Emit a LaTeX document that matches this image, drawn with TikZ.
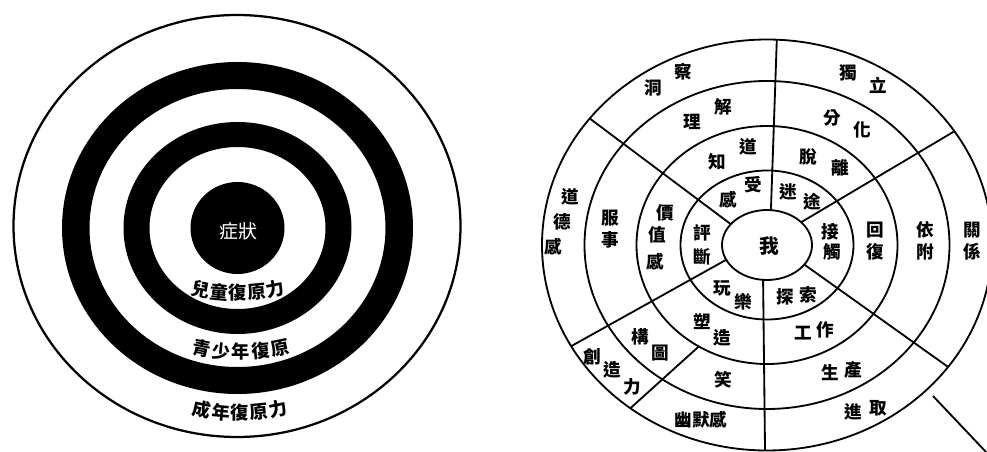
\documentclass[tikz,border=0pt]{standalone}
\usepackage{fontspec}
\newfontfamily\cjk{Noto Sans CJK TC}
\usetikzlibrary{calc}

\begin{document}
\begin{tikzpicture}[
  x=0.025cm, y=-0.025cm,
  ringline/.style={line width=1.6pt},
  wline/.style={line width=1.3pt},
  ringlbl/.style={font=\cjk\bfseries\fontsize{13}{13}\selectfont, inner sep=0pt},
  wchar/.style={font=\cjk\bfseries\fontsize{12.5}{13}\selectfont, inner sep=0pt},
  core/.style={font=\cjk\fontsize{13.5}{14}\selectfont, text=white, inner sep=0pt}
]
\useasboundingbox (0,0) rectangle (987,452);

% left: target
\coordinate (tc) at (237.5,228);
\draw[ringline] (237,226) ellipse (223.5 and 211);
\fill[even odd rule] (tc) ellipse (175.5 and 166) (tc) ellipse (148 and 139);
\fill[even odd rule] (tc) ellipse (114 and 106) (tc) ellipse (88 and 81);
\fill (tc) ellipse (47 and 46);
\node[core] (symptom) at (238,231) {症狀};

\foreach \ch [count=\i] in {兒,童,復,原,力}
  \node[ringlbl, rotate={(\i-3)*5.4}] (kid\i) at ($(238,93)+({90-(\i-3)*5.4}:200)$) {\ch};
\foreach \ch [count=\i] in {青,少,年,復,原}
  \node[ringlbl, rotate={(\i-3)*5.6}] (teen\i) at ($(241,152)+({90-(\i-3)*5.6}:200)$) {\ch};
\foreach \ch [count=\i] in {成,年,復,原,力}
  \node[ringlbl, rotate={(\i-3)*5.5}] (adult\i) at ($(240,213)+({90-(\i-3)*5.5}:200)$) {\ch};

% right: wheel
\coordinate (wc) at (767,245);
\draw[wline] (wc) ellipse (225 and 205.5);
\draw[wline] (wc) ellipse (182.5 and 164);
\draw[wline] (wc) ellipse (130.5 and 119);
\draw[wline] (wc) ellipse (86.5 and 74.5);
\draw[wline] (wc) ellipse (45 and 35);

\foreach \n/\ti/\to in {a/-85/-87.5, b/-40.6/-33.6, c/34/36.4, d/95/90.5, e/155/150.5, g/-143.5/-142} {
  \coordinate (in-\n) at ($(wc)+(\ti:45 and 35)$);
  \coordinate (out-\n) at ($(wc)+(\to:225 and 205.5)$);
  \draw[wline] (in-\n) -- (out-\n);
}
\coordinate (in-f) at ($(wc)+(121.5:130.5 and 119)$);
\coordinate (out-f) at ($(wc)+(127.4:225 and 205.5)$);
\draw[wline] (in-f) -- (out-f);

\coordinate (ptr-a) at (933,396);
\coordinate (ptr-b) at (986,452);
\draw[wline] (ptr-a) -- (ptr-b);

\node[wchar, font=\cjk\bfseries\fontsize{14}{14}\selectfont] (self) at (769,246) {我};
\node[wchar] (humour) at (701,420) {幽默感};
\foreach \ch/\px/\py [count=\k] in {
  洞/653/88, 察/683/72, 理/692/122, 解/723/107, 知/717/162, 道/748/147, 感/728/200, 受/753/185,
  獨/848/73, 立/878/85, 分/832/118, 化/862/130, 脫/808/157, 離/840/168, 迷/788/192, 途/812/202,
  接/830/232, 觸/832/252, 回/875/230, 復/875/252, 依/925/230, 附/925/252, 關/972/230, 係/972/252,
  探/785/297, 索/808/295, 工/803/333, 作/825/330, 生/830/373, 產/853/370, 進/853/412, 取/878/408,
  玩/722/288, 樂/743/302, 塑/702/322, 造/722/338, 構/640/337, 圖/660/353, 笑/723/380,
  創/592/357, 造/612/370, 力/632/387,
  評/702/233, 斷/702/257, 價/665/213, 值/657/235, 感/655/262, 服/610/218, 事/610/240,
  道/570/197, 德/562/222, 感/553/247}
  \node[wchar] (w\k) at (\px,\py) {\ch};
\end{tikzpicture}
\end{document}
